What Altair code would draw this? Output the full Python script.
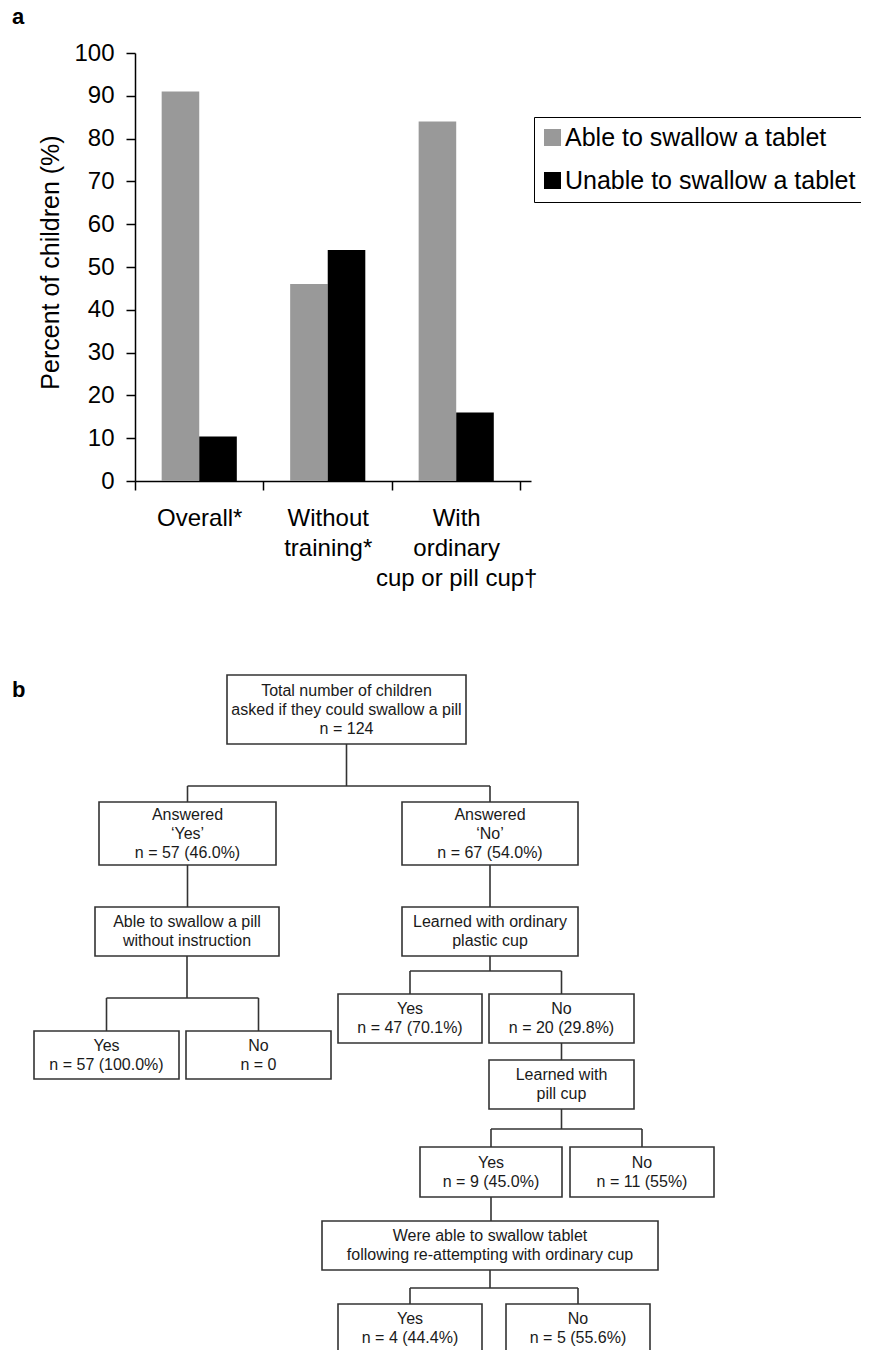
import altair as alt
import pandas as pd

# ---------------- Panel a: bar chart data ----------------
CATEGORIES = ["Overall*", "Without\ntraining*", "With\nordinary\ncup or pill cup\u2020"]
SERIES = ["Able to swallow a tablet", "Unable to swallow a tablet"]
ABLE = [91.0, 46.0, 84.0]
UNABLE = [10.4, 54.0, 16.0]
Y_TICKS = list(range(0, 101, 10))
Y_TITLE = "Percent of children (%)"
SERIES_COLORS = ["#999999", "#000000"]

# ---------------- Panel b: flow chart data ----------------
NODE_TEXT = [
    ["Total number of children", "asked if they could swallow a pill", "n = 124"],
    ["Answered", "\u2018Yes\u2019", "n = 57 (46.0%)"],
    ["Answered", "\u2018No\u2019", "n = 67 (54.0%)"],
    ["Able to swallow a pill", "without instruction"],
    ["Learned with ordinary", "plastic cup"],
    ["Yes", "n = 57 (100.0%)"],
    ["No", "n = 0"],
    ["Yes", "n = 47 (70.1%)"],
    ["No", "n = 20 (29.8%)"],
    ["Learned with", "pill cup"],
    ["Yes", "n = 9 (45.0%)"],
    ["No", "n = 11 (55%)"],
    ["Were able to swallow tablet", "following re-attempting with ordinary cup"],
    ["Yes", "n = 4 (44.4%)"],
    ["No", "n = 5 (55.6%)"],
]
NODE_PARENT = [None, 0, 0, 1, 2, 3, 3, 4, 4, 8, 9, 9, 10, 12, 12]
PANEL_LABELS = ["a", "b"]

# ---------------- layout (page pixels) ----------------
W, H = 853, 1342
BOX = [  # x1, x2, y1, y2
    (227, 466, 675, 744),
    (99, 276, 802, 865),
    (402, 578, 802, 865),
    (95, 279, 907, 956),
    (402, 578, 907, 956),
    (34, 179, 1031, 1079),
    (186, 331, 1031, 1079),
    (338, 482, 994, 1043),
    (489, 634, 994, 1043),
    (489, 634, 1060, 1109),
    (420, 562, 1147, 1197),
    (570, 714, 1147, 1197),
    (322, 658, 1221, 1270),
    (338, 482, 1304, 1353),
    (506, 650, 1304, 1353),
]
BUS_Y = {0: 786, 3: 998, 4: 971, 9: 1129, 12: 1288}
LINE_GAP = 19
PANEL_POS = [(12, 24), (12, 697)]

# ---------------- build tables ----------------
bar_df = pd.DataFrame({
    "category": CATEGORIES * 2,
    "series": [SERIES[0]] * len(CATEGORIES) + [SERIES[1]] * len(CATEGORIES),
    "value": ABLE + UNABLE,
})

box_df = pd.DataFrame(BOX, columns=["x1", "x2", "y1", "y2"])

text_rows = []
for (x1, x2, y1, y2), lines in zip(BOX, NODE_TEXT):
    cx, cy = (x1 + x2) / 2, (y1 + y2) / 2
    n = len(lines)
    for j, line in enumerate(lines):
        text_rows.append({"x": cx, "y": cy + (j - (n - 1) / 2) * LINE_GAP, "text": line})
text_df = pd.DataFrame(text_rows)

seg = []
children = {}
for i, p in enumerate(NODE_PARENT):
    if p is not None:
        children.setdefault(p, []).append(i)
for p, cs in children.items():
    px1, px2, py1, py2 = BOX[p]
    pcx = (px1 + px2) / 2
    if len(cs) == 1:
        c = cs[0]
        seg.append({"x": pcx, "x2": pcx, "y": py2, "y2": BOX[c][2]})
    else:
        bus = BUS_Y[p]
        seg.append({"x": pcx, "x2": pcx, "y": py2, "y2": bus})
        ccx = [(BOX[c][0] + BOX[c][1]) / 2 for c in cs]
        seg.append({"x": min(ccx), "x2": max(ccx), "y": bus, "y2": bus})
        for c, cx in zip(cs, ccx):
            seg.append({"x": cx, "x2": cx, "y": bus, "y2": BOX[c][2]})
seg_df = pd.DataFrame(seg)

panel_df = pd.DataFrame({"x": [p[0] for p in PANEL_POS], "y": [p[1] for p in PANEL_POS], "text": PANEL_LABELS})

FONT = "Liberation Sans"

# ---------------- panel a ----------------
x0_svg, y0_svg, yb_svg, xr_svg = 127, 45, 473, 523
bars = alt.Chart(bar_df).mark_bar().encode(
    x=alt.X("category:N", sort=CATEGORIES,
            scale=alt.Scale(range=[x0_svg, xr_svg], paddingInner=0, paddingOuter=0.041, align=0),
            axis=alt.Axis(title=None, labelAngle=0, labelExpr="split(datum.label, '\\n')",
                          labelLineHeight=30, labelFontSize=24, labelPadding=16,
                          tickBand="extent", offset=-(H - yb_svg), labelLimit=400)),
    xOffset=alt.XOffset("series:N", sort=SERIES, scale=alt.Scale(paddingOuter=0.71, paddingInner=0)),
    y=alt.Y("value:Q", scale=alt.Scale(domain=[0, 100], range=[yb_svg, y0_svg], nice=False),
            axis=alt.Axis(values=Y_TICKS, title=Y_TITLE, offset=-x0_svg, labelPadding=12,
                          titlePadding=10, titleY=254, labelFontSize=24, titleFontSize=25)),
    color=alt.Color("series:N", sort=SERIES,
                    scale=alt.Scale(domain=SERIES, range=SERIES_COLORS),
                    legend=alt.Legend(title=None, orient="none", legendX=526, legendY=109,
                                      strokeColor="black", padding=8, symbolType="square",
                                      symbolSize=289, symbolStrokeWidth=0, symbolOffset=-2,
                                      labelFontSize=25, labelFont=FONT, labelOffset=0,
                                      rowPadding=17, labelLimit=400, labelColor="black")),
)

# ---------------- panel b ----------------
fx = alt.Scale(domain=[8, 8 + W], range=[0, W], nice=False, zero=False)
fy = alt.Scale(domain=[8, 8 + H], range=[0, H], nice=False, zero=False)

rules = alt.Chart(seg_df).mark_rule(color="#333333", strokeWidth=1.6).encode(
    x=alt.X("x:Q", scale=fx, axis=None), x2="x2:Q",
    y=alt.Y("y:Q", scale=fy, axis=None), y2="y2:Q",
)
boxes = alt.Chart(box_df).mark_rect(fill="white", stroke="#333333", strokeWidth=1.6).encode(
    x=alt.X("x1:Q", scale=fx, axis=None), x2="x2:Q",
    y=alt.Y("y1:Q", scale=fy, axis=None), y2="y2:Q",
)
texts = alt.Chart(text_df).mark_text(font=FONT, fontSize=16, color="#1a1a1a",
                                     align="center", baseline="middle").encode(
    x=alt.X("x:Q", scale=fx, axis=None),
    y=alt.Y("y:Q", scale=fy, axis=None),
    text="text:N",
)
panels = alt.Chart(panel_df).mark_text(font=FONT, fontSize=22, fontWeight="bold", color="black",
                                       align="left", baseline="alphabetic").encode(
    x=alt.X("x:Q", scale=fx, axis=None),
    y=alt.Y("y:Q", scale=fy, axis=None),
    text="text:N",
)

chart = alt.layer(bars, rules, boxes, texts, panels).resolve_scale(
    x="independent", y="independent"
).properties(
    width=W, height=H, autosize=alt.AutoSizeParams(type="none"), padding=0
).configure(font=FONT).configure_view(strokeWidth=0).configure_axis(
    grid=False, domainColor="black", domainWidth=1.5, tickColor="black", tickWidth=1.5,
    tickSize=9, labelColor="black", titleColor="black", titleFontWeight="normal",
    labelFont=FONT, titleFont=FONT,
)

chart.save("out.html", embed_options={"renderer": "svg", "actions": False})
